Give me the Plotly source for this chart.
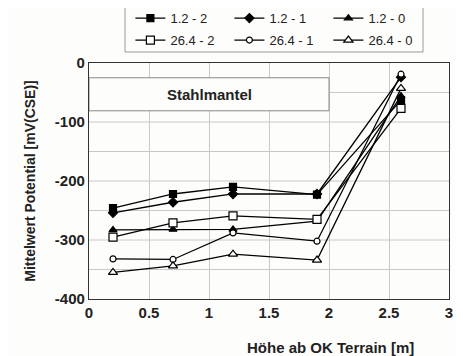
import plotly.graph_objects as go

x_vals = [0.2, 0.7, 1.2, 1.9, 2.6]
series_names = ["1.2 - 2", "1.2 - 1", "1.2 - 0", "26.4 - 2", "26.4 - 1", "26.4 - 0"]
s_12_2 = [-246, -222, -210, -223, -63]
s_12_1 = [-254, -236, -222, -222, -24]
s_12_0 = [-283, -282, -282, -268, -56]
s_264_2 = [-295, -271, -259, -265, -77]
s_264_1 = [-332, -333, -288, -302, -19]
s_264_0 = [-355, -344, -324, -334, -43]
series_values = [s_12_2, s_12_1, s_12_0, s_264_2, s_264_1, s_264_0]
symbols = ["square", "diamond", "triangle-up", "square", "circle", "triangle-up"]
fills = ["black", "black", "black", "white", "white", "white"]
sizes = [7, 7, 7, 8, 6, 8]
legend_ids = ["legend", "legend", "legend", "legend2", "legend2", "legend2"]

x_ticks = [0, 0.5, 1, 1.5, 2, 2.5, 3]
x_tick_labels = ["0", "0.5", "1", "1.5", "2", "2.5", "3"]
y_ticks = [0, -100, -200, -300, -400]
y_tick_labels = ["0", "-100", "-200", "-300", "-400"]

fig = go.Figure()
for name, vals, sym, fc, sz, lg in zip(series_names, series_values, symbols, fills, sizes, legend_ids):
    fig.add_trace(go.Scatter(
        x=x_vals, y=vals, name=name, mode="lines+markers",
        line=dict(color="black", width=1.3),
        marker=dict(symbol=sym, size=sz, color=fc, line=dict(color="black", width=1.2)),
        legend=lg,
    ))

font_main = "Liberation Sans, Arial, sans-serif"
legend_common = dict(orientation="h", xanchor="left", yanchor="middle",
                     bgcolor="rgba(0,0,0,0)", borderwidth=0,
                     font=dict(family=font_main, size=13, color="#222"),
                     entrywidth=54, tracegroupgap=0, itemwidth=30)

# page body has an 8px margin, so the figure is sized/offset accordingly
fig.update_layout(
    width=455, height=348,
    margin=dict(l=81, r=14, t=55, b=57, autoexpand=False),
    paper_bgcolor="#fdfdfb", plot_bgcolor="#fdfdfb",
    font=dict(family=font_main, size=13, color="#222"),
    legend=dict(x=0.115, y=1.19, **legend_common),
    legend2=dict(x=0.115, y=1.097, **legend_common),
    xaxis=dict(range=[0, 3], tickvals=x_ticks, ticktext=x_tick_labels,
               showgrid=True, gridcolor="#c8c8c8", gridwidth=1,
               showline=True, linecolor="#333", linewidth=1.2, mirror=True,
               ticks="", zeroline=False,
               tickfont=dict(family=font_main, size=15, color="#222", weight="bold")),
    yaxis=dict(range=[-400, 0], tickvals=y_ticks, ticktext=y_tick_labels,
               showgrid=False,
               showline=True, linecolor="#333", linewidth=1.2, mirror=True,
               ticks="", zeroline=False,
               title=dict(text="<b>Mittelwert Potential [mV(CSE)]</b>",
                          font=dict(family=font_main, size=14, color="#222"), standoff=15),
               tickfont=dict(family=font_main, size=15, color="#222", weight="bold")),
    showlegend=True,
)

for gy in range(-350, 0, 50):
    fig.add_shape(type="line", xref="x", yref="y", x0=0, x1=3, y0=gy, y1=gy,
                  line=dict(color="#c8c8c8", width=1), layer="below")

fig.add_shape(type="rect", xref="paper", yref="paper",
              x0=(125 - 89) / 360, x1=(423 - 89) / 360,
              y0=(299 - 52) / 236, y1=(299 - 6) / 236,
              line=dict(color="#999", width=1), fillcolor="rgba(0,0,0,0)")

fig.add_shape(type="rect", xref="x", yref="y", x0=0, x1=2.0, y0=-25, y1=-81,
              line=dict(color="#888", width=1), fillcolor="#fdfdfb", layer="between")
fig.add_annotation(x=1.0, y=-53, xref="x", yref="y", text="<b>Stahlmantel</b>",
                   showarrow=False, xanchor="center", yanchor="middle",
                   font=dict(family=font_main, size=15, color="#222"))

fig.add_annotation(x=(330 - 89) / 360, y=(299 - 347) / 236, xref="paper", yref="paper",
                   text="<b>Höhe ab OK Terrain [m]</b>", showarrow=False,
                   xanchor="center", yanchor="middle",
                   font=dict(family=font_main, size=15, color="#222"))

fig.write_html("out.html")
